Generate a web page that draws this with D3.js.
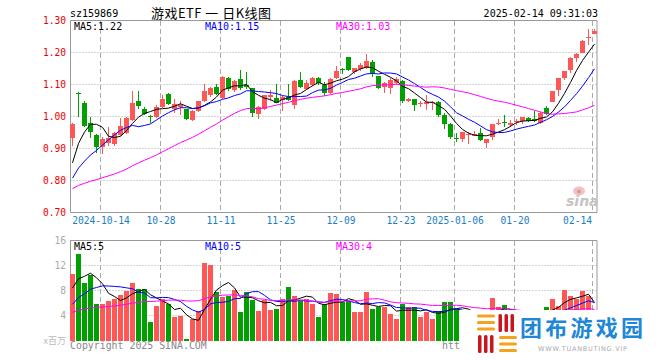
<!DOCTYPE html>
<html><head><meta charset="utf-8">
<script src="https://cdn.jsdelivr.net/npm/d3@7"></script>
<style>body{margin:0;background:#fff}svg{display:block}</style>
</head><body><svg id="c" width="660" height="360"></svg>
<script>
// ---------- data ----------
const preCloses = [0.772,0.768,0.761,0.757,0.752,0.760,0.766,0.758,0.749,0.745,0.752,0.758,0.763,0.770,0.761,0.754,0.750,0.747,0.756,0.763,0.760,0.754,0.758,0.765,0.762,0.770,0.792,0.831,0.905];
const preVolumes = [3.6,4.1,3.9,4.4,3.5,3.8,4.2,3.7,3.3,4.0,3.9,4.3,3.6,3.4,4.1,3.8,3.7,4.2,3.9,3.6,3.1,3.4,2.9,3.3,3.3,6.5,7.2,8.1,9.5];
const open  = [0.934,1.075,1.043,0.979,0.942,0.905,0.916,0.914,0.942,0.950,0.988,1.048,1.025,1.002,0.998,1.029,1.070,1.022,1.030,1.023,0.989,1.018,1.049,1.068,1.092,1.058,1.120,1.082,1.117,1.098,1.089,1.007,1.024,1.060,1.057,1.052,1.061,1.036,1.114,1.086,1.098,1.121,1.098,1.073,1.120,1.148,1.185,1.139,1.148,1.151,1.170,1.126,1.092,1.089,1.105,1.111,1.048,1.054,1.038,1.040,1.042,1.046,1.004,0.977,0.932,0.929,0.944,0.940,0.949,0.918,0.936,0.976,0.984,0.974,0.982,0.987,0.996,0.991,0.980,1.026,1.044,1.082,1.119,1.146,1.183,1.199,1.247,1.259];
const high  = [0.980,1.076,1.048,1.000,0.946,0.935,0.966,0.952,0.995,1.000,1.079,1.079,1.030,1.004,1.037,1.067,1.072,1.054,1.049,1.024,1.020,1.050,1.101,1.092,1.101,1.127,1.123,1.115,1.145,1.140,1.090,1.032,1.068,1.082,1.101,1.064,1.101,1.114,1.140,1.115,1.125,1.122,1.107,1.120,1.157,1.152,1.186,1.152,1.168,1.195,1.176,1.127,1.109,1.120,1.125,1.114,1.058,1.056,1.048,1.067,1.050,1.049,1.012,0.981,0.947,0.952,0.952,0.956,0.965,0.930,0.978,0.992,1.006,0.990,0.993,1.000,1.000,1.018,1.014,1.032,1.081,1.120,1.143,1.185,1.200,1.240,1.272,1.272];
const low   = [0.908,1.000,0.967,0.934,0.886,0.884,0.908,0.909,0.938,0.945,0.985,1.025,1.005,0.981,0.995,1.026,1.036,1.010,1.004,0.990,0.985,1.015,1.045,1.062,1.066,1.055,1.080,1.078,1.083,1.086,0.999,0.992,1.020,1.050,1.041,1.017,1.050,1.023,1.088,1.083,1.096,1.100,1.065,1.071,1.116,1.132,1.141,1.134,1.143,1.148,1.124,1.086,1.074,1.071,1.100,1.041,1.046,1.017,1.030,1.020,1.020,1.000,0.960,0.929,0.921,0.921,0.915,0.938,0.925,0.902,0.927,0.973,0.968,0.968,0.975,0.976,0.984,0.982,0.978,1.006,1.044,1.065,1.113,1.135,1.170,1.199,1.222,1.258];
const close = [0.978,1.073,0.970,0.952,0.905,0.931,0.934,0.950,0.970,0.995,1.043,1.032,1.008,1.000,1.029,1.054,1.039,1.039,1.037,0.992,1.018,1.048,1.080,1.089,1.070,1.124,1.085,1.112,1.088,1.092,1.011,1.029,1.066,1.067,1.043,1.062,1.053,1.111,1.091,1.105,1.120,1.106,1.073,1.117,1.142,1.146,1.145,1.151,1.160,1.172,1.135,1.089,1.104,1.113,1.116,1.048,1.054,1.036,1.042,1.045,1.045,1.004,0.977,0.936,0.930,0.951,0.946,0.946,0.927,0.929,0.976,0.980,0.982,0.980,0.987,0.999,0.986,0.987,1.012,1.009,1.079,1.119,1.142,1.183,1.195,1.236,1.249,1.268];
const volume= [10.7,13.9,9.2,10.5,5.9,5.9,6.3,6.6,7.3,8.0,9.2,8.2,8.2,3.0,5.5,6.7,5.9,3.7,4.0,0.3,3.4,4.7,12.4,12.1,7.7,7.0,7.2,8.1,4.6,7.8,6.5,4.8,6.5,4.9,5.1,6.7,8.6,7.1,6.4,6.7,5.9,3.7,5.9,7.6,7.5,6.2,6.3,4.5,4.5,7.8,5.1,5.3,5.3,4.3,3.5,5.8,5.3,5.4,3.7,4.5,3.5,4.7,6.1,6.2,5.0,4.2,3.6,3.3,4.0,3.8,6.8,5.4,5.7,3.2,3.0,4.1,3.4,4.3,4.6,5.4,6.7,5.5,8.1,7.2,6.6,8.0,7.1,1.5];
const tickIndex  = [5,15,25,35,45,55,64,74,87];
const tickLabels = ["2024-10-14","10-28","11-11","11-25","12-09","12-23","2025-01-06","01-20","02-14"];
const priceTicks = [0.70,0.80,0.90,1.00,1.10,1.20,1.30];
const volTicks = [4,8,12,16];
const maPeriods = [5,10,30];
const maColors = ["#000000","#0000ff","#ff00ff"];
const priceLegend = ["MA5:1.22","MA10:1.15","MA30:1.03"];
const volLegend = ["MA5:5","MA10:5","MA30:4"];

// ---------- setup ----------
const RED="#ff5656", GREEN="#00a000", GRID="#aaaaaa", BORDER="#999999";
const MONO="'DejaVu Sans Mono', 'Liberation Mono', monospace";
const svg=d3.select("#c");
const n=close.length;
const x=d3.scaleLinear().domain([0,n-1]).range([72,72+6*(n-1)]);
const yP=d3.scaleLinear().domain([0.70,1.30]).range([212.5,20.5]);
const yV=d3.scaleLinear().domain([0,16]).range([340.5,240.5]);
const L=70.5, R=597;

function ma(series, pre, p){
  const all=pre.concat(series);
  return series.map((_,i)=>{const e=pre.length+i+1;return d3.mean(all.slice(e-p,e));});
}

// header
svg.append("text").attr("x",70).attr("y",17).attr("font-family",MONO).attr("font-size",10).attr("fill","#000").text("sz159869");
svg.append("text").attr("x",151).attr("y",18).attr("font-family","'Noto Sans CJK SC'").attr("font-size",13).attr("textLength",120).attr("lengthAdjust","spacing").attr("fill","#000").text("游戏ETF 一 日K线图");
svg.append("text").attr("x",598).attr("y",17).attr("text-anchor","end").attr("font-family",MONO).attr("font-size",10).attr("fill","#000").text("2025-02-14 09:31:03");

// grids
const g=svg.append("g");
[0.8,0.9,1.0,1.1,1.2].forEach(v=>g.append("line").attr("x1",L).attr("x2",R).attr("y1",yP(v)).attr("y2",yP(v)).attr("stroke",GRID).attr("stroke-dasharray","1,2"));
[4,8,12].forEach(v=>g.append("line").attr("x1",L).attr("x2",R).attr("y1",yV(v)).attr("y2",yV(v)).attr("stroke",GRID).attr("stroke-dasharray","1,2"));
tickIndex.forEach(i=>{
  const gx=x(i)-1.5;
  g.append("line").attr("x1",gx).attr("x2",gx).attr("y1",21).attr("y2",212).attr("stroke",GRID).attr("stroke-dasharray","5,3");
  g.append("line").attr("x1",gx).attr("x2",gx).attr("y1",241).attr("y2",340).attr("stroke",GRID).attr("stroke-dasharray","5,3");
});

// borders
svg.append("path").attr("d",`M${L},212.5V20.5H${R}V212.5H${L}`).attr("fill","none").attr("stroke",BORDER);
svg.append("path").attr("d",`M${L},340.5V240.5H${R}V340.5`).attr("fill","none").attr("stroke",BORDER);

// sina logo (price panel)
const sl=svg.append("g");
sl.append("ellipse").attr("cx",579).attr("cy",191).attr("rx",6).attr("ry",4.5).attr("fill","#f6c0c0");
sl.append("circle").attr("cx",579).attr("cy",191.5).attr("r",2).attr("fill","#c9a0a0");
sl.append("text").attr("x",566).attr("y",206).attr("font-family","'DejaVu Sans'").attr("font-style","italic").attr("font-weight","bold").attr("font-size",14).attr("fill","#c4c4c4").text("sina");

// candles
const cg=svg.append("g").attr("shape-rendering","crispEdges");
d3.range(n).forEach(i=>{
  const up=close[i]>=open[i], col=up?RED:GREEN, cx=x(i);
  cg.append("line").attr("x1",cx+0.5).attr("x2",cx+0.5).attr("y1",yP(high[i])).attr("y2",yP(low[i])).attr("stroke",col);
  const y1=yP(Math.max(open[i],close[i])), y2=yP(Math.min(open[i],close[i]));
  cg.append("rect").attr("x",cx-2).attr("width",5).attr("y",y1).attr("height",Math.max(1,y2-y1)).attr("fill",col);
});

// price MAs
maPeriods.forEach((p,k)=>{
  const m=ma(close,preCloses,p);
  svg.append("path").attr("d",d3.line().x((d,i)=>x(i)+0.5).y(d=>yP(d))(m)).attr("fill","none").attr("stroke",maColors[k]).attr("stroke-width",1);
});

// volume bars
const vg=svg.append("g").attr("shape-rendering","crispEdges");
d3.range(n).forEach(i=>{
  const col=close[i]>=open[i]?RED:GREEN;
  vg.append("rect").attr("x",x(i)-2).attr("width",5).attr("y",yV(volume[i])).attr("height",yV(0)-yV(volume[i])).attr("fill",col);
});
maPeriods.forEach((p,k)=>{
  const m=ma(volume,preVolumes,p);
  svg.append("path").attr("d",d3.line().x((d,i)=>x(i)+0.5).y(d=>yV(d))(m)).attr("fill","none").attr("stroke",maColors[k]).attr("stroke-width",1);
});

// legends
const lx=[74,205,336];
priceLegend.forEach((t,k)=>svg.append("text").attr("x",lx[k]).attr("y",30).attr("font-family",MONO).attr("font-size",10).attr("fill",maColors[k]).text(t));
volLegend.forEach((t,k)=>svg.append("text").attr("x",lx[k]).attr("y",250).attr("font-family",MONO).attr("font-size",10).attr("fill",maColors[k]).text(t));

// axes
const ay=svg.append("g").attr("transform",`translate(${L},0)`).call(d3.axisLeft(yP).tickValues(priceTicks).tickFormat(d3.format(".2f")).tickSize(0).tickPadding(4.5));
ay.select(".domain").remove();
ay.selectAll("text").attr("font-family",MONO).attr("font-size",9.6).attr("fill","#ee0000");
const av=svg.append("g").attr("transform",`translate(${L},0)`).call(d3.axisLeft(yV).tickValues(volTicks).tickSize(0).tickPadding(4.5));
av.select(".domain").remove();
av.selectAll("text").attr("font-family",MONO).attr("font-size",9.6).attr("fill","#aaaaaa");
const ax=svg.append("g").attr("transform","translate(0,212)").call(d3.axisBottom(d3.scaleLinear().domain([0,n-1]).range([x(0)-1.5,x(n-1)-1.5])).tickValues(tickIndex).tickFormat((d,j)=>tickLabels[j]).tickSize(0).tickPadding(5));
ax.select(".domain").remove();
ax.selectAll("text").attr("font-family",MONO).attr("font-size",9.6).attr("fill","#1a7ec8");
ax.selectAll("text").filter((d,j)=>j===tickIndex.length-1).attr("text-anchor","end").attr("x",-1);

svg.append("text").attr("x",66).attr("y",344).attr("text-anchor","end").attr("font-family","'Noto Sans CJK SC'").attr("font-size",9).attr("fill","#bbbbbb").text("x百万");
svg.append("text").attr("x",70).attr("y",349).attr("font-family",MONO).attr("font-size",9.9).attr("fill","#888888").text("Copyright 2025 SINA.COM");
svg.append("text").attr("x",442).attr("y",349).attr("font-family",MONO).attr("font-size",9.9).attr("fill","#888888").text("htt");

// watermark overlay
const wm=svg.append("g");
wm.append("rect").attr("x",460).attr("y",310).attr("width",200).attr("height",50).attr("fill","#fff");
const OR="#f5a31e", DR="#c8161d";
[314.5,321,327.5].forEach(yy=>wm.append("rect").attr("x",477).attr("y",yy).attr("width",18).attr("height",3).attr("rx",1.5).attr("fill",OR));
[478,484,490].forEach(xx=>wm.append("rect").attr("x",xx).attr("y",335).attr("width",3.5).attr("height",18).attr("rx",1.5).attr("fill",DR));
[498.5,504.5,510.5].forEach(xx=>wm.append("rect").attr("x",xx).attr("y",314).attr("width",3.5).attr("height",18).attr("rx",1.5).attr("fill",DR));
[336,342.5,349].forEach(yy=>wm.append("rect").attr("x",499).attr("y",yy).attr("width",18).attr("height",3).attr("rx",1.5).attr("fill",OR));
wm.append("text").attr("x",520).attr("y",336).attr("font-family","'Noto Sans CJK SC'").attr("font-weight","bold").attr("font-size",22).attr("textLength",123).attr("fill","#1e87d6").text("团布游戏园");
wm.append("text").attr("x",538).attr("y",350.5).attr("font-family","'DejaVu Sans'").attr("font-size",6.5).attr("textLength",89).attr("fill","#aaaaaa").text("WWW.TUANBUTING.VIP");
</script></body></html>
